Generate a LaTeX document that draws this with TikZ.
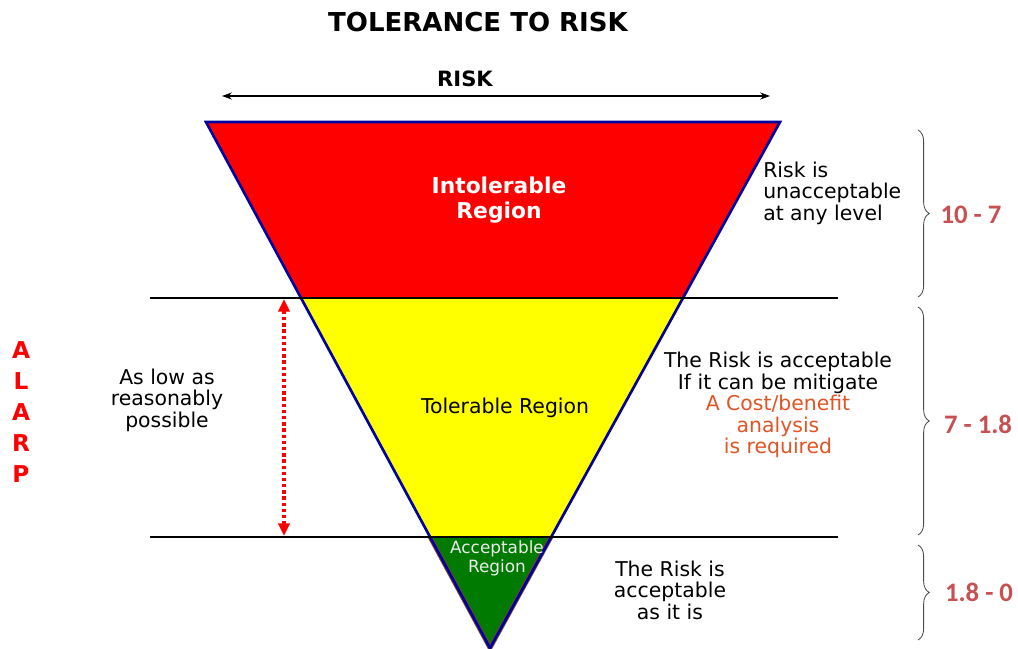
\documentclass[tikz,border=0pt]{standalone}
\usepackage{fontspec}
\setmainfont{DejaVu Sans}
\newfontfamily\numfont{Carlito}
\usetikzlibrary{arrows.meta,decorations.pathreplacing}
\definecolor{intolred}{RGB}{255,0,0}
\definecolor{tolyellow}{RGB}{255,255,0}
\definecolor{accgreen}{RGB}{0,122,0}
\definecolor{edgeblue}{RGB}{0,0,160}
\definecolor{edgebrown}{RGB}{120,70,30}
\definecolor{notered}{RGB}{226,84,36}
\definecolor{rangered}{RGB}{200,80,80}
\tikzset{
  txt/.style={font=\fontsize{14.5}{15.3}\selectfont, align=center, inner sep=0pt},
  levelline/.style={line width=1.8pt, black},
  rangebrace/.style={decorate, decoration={brace, amplitude=8pt}, draw=black!70, line width=0.6pt},
  rangelbl/.style={font=\numfont\bfseries\fontsize{19}{21}\selectfont, text=rangered, inner sep=0pt}
}
\begin{document}
\begin{tikzpicture}[x=0.025cm,y=-0.025cm]
  \useasboundingbox (0,0) rectangle (1018,649);
  % corners of the funnel
  \coordinate (tl) at (206,122);
  \coordinate (tr) at (780,122);
  \coordinate (apex) at (490,648);
  \coordinate (ul) at (301,298);
  \coordinate (ur) at (683,298);
  \coordinate (ll) at (430,537);
  \coordinate (lr) at (551,537);
  \fill[intolred] (tl) -- (tr) -- (ur) -- (ul) -- cycle;
  \fill[tolyellow] (ul) -- (ur) -- (lr) -- (ll) -- cycle;
  \fill[accgreen] (ll) -- (lr) -- (apex) -- cycle;
  \draw[edgebrown, line width=3.2pt] (lr) -- (apex) -- (ll);
  \draw[edgeblue, line width=1.9pt] (tl) -- (tr) -- (apex) -- cycle;
  % level lines
  \coordinate (hi west) at (150,298);
  \coordinate (hi east) at (838,298);
  \coordinate (lo west) at (150,537);
  \coordinate (lo east) at (838,537);
  \draw[levelline] (hi west) -- (hi east);
  \draw[levelline] (lo west) -- (lo east);
  % titles
  \node[font=\bfseries\fontsize{18.5}{21}\selectfont] (title) at (478,22) {TOLERANCE TO RISK};
  \node[font=\bfseries\fontsize{15}{17}\selectfont] (risk) at (465,79) {RISK};
  \coordinate (risk west) at (222,96);
  \coordinate (risk east) at (770,96);
  \draw[{Stealth[length=7pt,width=5pt]}-{Stealth[length=7pt,width=5pt]}, line width=0.8pt] (risk west) -- (risk east);
  % region labels
  \node[txt, text=white, font=\bfseries\fontsize{15.5}{17.5}\selectfont] (intol) at (499,200) {Intolerable\\Region};
  \node[txt] (tol) at (505,408) {Tolerable Region};
  \node[txt, text=white!92!black, font=\fontsize{12}{13.5}\selectfont] (acc) at (497,558) {Acceptable\\Region};
  % notes
  \node[txt, align=left, anchor=west] (note1) at (763,193) {Risk is\\unacceptable\\at any level};
  \node[txt] (note2) at (778,405) {The Risk is acceptable\\If it can be mitigate\\\textcolor{notered}{A Cost/benefit}\\\textcolor{notered}{analysis}\\\textcolor{notered}{is required}};
  \node[txt] (note3) at (670,590) {The Risk is\\acceptable\\as it is};
  \node[txt] (alow) at (167,400) {As low as\\reasonably\\possible};
  % ALARP
  \node[txt, text=intolred, font=\bfseries\fontsize{16.5}{22}\selectfont] (alarp) at (21,412) {A\\L\\A\\R\\P};
  \coordinate (alarp top) at (284,299);
  \coordinate (alarp bot) at (284,536);
  \draw[intolred, line width=2.4pt, dotted, {Triangle[length=9pt,width=8pt]}-{Triangle[length=9pt,width=8pt]}] (alarp top) -- (alarp bot);
  % ranges
  \coordinate (b1 top) at (918,130);
  \coordinate (b1 bot) at (918,297);
  \coordinate (b2 top) at (918,307);
  \coordinate (b2 bot) at (918,535);
  \coordinate (b3 top) at (918,545);
  \coordinate (b3 bot) at (918,640);
  \draw[rangebrace] (b1 top) -- (b1 bot);
  \draw[rangebrace] (b2 top) -- (b2 bot);
  \draw[rangebrace] (b3 top) -- (b3 bot);
  \node[rangelbl] (r1) at (971,215) {10 - 7};
  \node[rangelbl] (r2) at (978,424) {7 - 1.8};
  \node[rangelbl] (r3) at (979,592) {1.8 - 0};
\end{tikzpicture}
\end{document}
